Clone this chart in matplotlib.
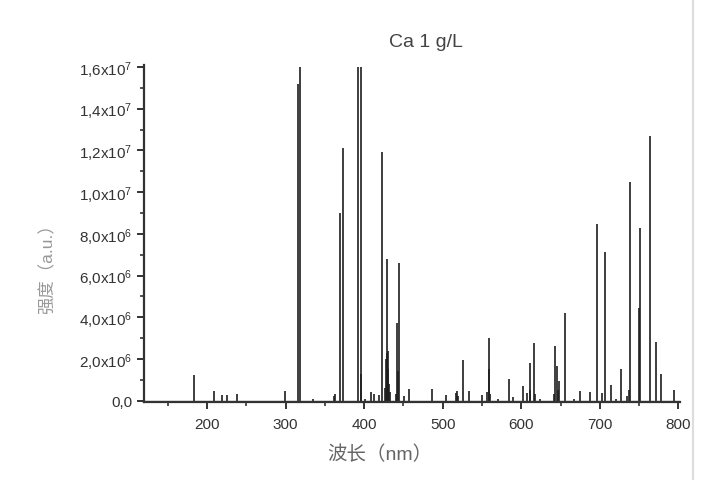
import matplotlib
matplotlib.use("Agg")
import matplotlib.pyplot as plt
from matplotlib.ticker import MultipleLocator, FuncFormatter
from matplotlib.lines import Line2D

plt.rcParams['font.family'] = ['Liberation Sans', 'Noto Sans CJK SC', 'DejaVu Sans']
plt.rcParams['mathtext.fontset'] = 'custom'
plt.rcParams['mathtext.rm'] = 'Liberation Sans'
plt.rcParams['mathtext.it'] = 'Liberation Sans:italic'

title = "Ca 1 g/L"
xlabel = "波长（nm）"
ylabel = "强度（a.u.）"

wavelength = [183.8, 209.0, 219.5, 225.5, 238.5, 299.5, 315.9, 317.9, 334.6, 362.0,
              363.5, 369.6, 372.8, 392.2, 395.4, 396.5, 401.0, 409.0, 413.0, 419.0,
              422.5, 427.0, 428.0, 428.6, 429.3, 430.0, 430.8, 431.5, 432.3, 440.5,
              442.4, 443.0, 444.6, 450.5, 457.3, 486.2, 504.0, 516.5, 518.0, 520.0,
              526.1, 534.0, 550.0, 556.5, 558.4, 559.2, 560.5, 570.0, 585.0, 589.0,
              602.0, 607.5, 610.8, 611.5, 615.7, 617.0, 624.0, 641.5, 643.3, 645.5,
              647.0, 648.4, 656.0, 667.0, 675.0, 687.0, 696.8, 703.0, 706.6, 714.6,
              720.0, 727.4, 735.0, 737.5, 738.2, 750.0, 751.2, 763.5, 772.0, 777.5,
              794.9]
intensity = [1.25e6, 0.45e6, 0.27e6, 0.28e6, 0.34e6, 0.48e6, 1.52e7, 1.60e7, 0.10e6, 0.20e6,
             0.32e6, 9.0e6, 1.21e7, 1.60e7, 1.60e7, 1.3e6, 0.1e6, 0.4e6, 0.3e6, 0.25e6,
             1.19e7, 0.6e6, 2.0e6, 2.3e6, 6.8e6, 2.4e6, 1.5e6, 0.8e6, 0.4e6, 0.3e6,
             3.7e6, 1.4e6, 6.6e6, 0.2e6, 0.56e6, 0.55e6, 0.28e6, 0.35e6, 0.47e6, 0.2e6,
             1.97e6, 0.48e6, 0.25e6, 0.4e6, 2.98e6, 1.5e6, 0.3e6, 0.1e6, 1.05e6, 0.15e6,
             0.7e6, 0.35e6, 0.5e6, 1.8e6, 2.74e6, 0.3e6, 0.1e6, 0.3e6, 2.6e6, 1.64e6,
             0.5e6, 0.92e6, 4.2e6, 0.1e6, 0.48e6, 0.39e6, 8.45e6, 0.35e6, 7.15e6, 0.74e6,
             0.1e6, 1.53e6, 0.2e6, 0.5e6, 1.05e7, 4.46e6, 8.3e6, 1.27e7, 2.8e6, 1.29e6,
             0.5e6]

fig = plt.figure(figsize=(7.28, 4.81), dpi=100)
ax = fig.add_axes([0.198, 0.162, 0.736, 0.701])

ax.vlines(wavelength, 0, intensity, color='#1e1e1e', lw=1.2)
ax.axhline(0, color='#555555', lw=0.9)

ax.set_xlim(120, 802)
ax.set_ylim(-7e4, 1.61e7)

for s in ['top', 'right']:
    ax.spines[s].set_visible(False)
for s in ['left', 'bottom']:
    ax.spines[s].set_linewidth(1.6)
    ax.spines[s].set_color('#333333')

ax.xaxis.set_major_locator(MultipleLocator(100))
ax.xaxis.set_minor_locator(MultipleLocator(50))
ax.yaxis.set_major_locator(MultipleLocator(2e6))
ax.yaxis.set_minor_locator(MultipleLocator(1e6))

def yfmt(v, pos):
    if abs(v) < 1:
        return "0,0"
    exp = 0
    m = v
    while m >= 10:
        m /= 10
        exp += 1
    return ("%.1f" % m).replace('.', ',') + "x10$^{%d}$" % exp

ax.yaxis.set_major_formatter(FuncFormatter(yfmt))
ax.tick_params(axis='both', which='major', direction='out', length=5, width=1.4,
               color='#333333', labelsize=11, labelcolor='#333333')
ax.tick_params(axis='both', which='minor', direction='out', length=3, width=1.2,
               color='#333333')
ax.tick_params(axis='x', pad=6)

ax.set_xlabel(xlabel, fontsize=14, color='#666666')
ax.xaxis.set_label_coords(0.44, -0.125)
ax.set_ylabel(ylabel, fontsize=12.5, color='#999999')
ax.yaxis.set_label_coords(-0.165, 0.41)

fig.text(0.585, 0.912, title, fontsize=14, color='#444444', ha='center', va='center')

fig.add_artist(Line2D([0.952, 0.952], [0.0, 1.0], transform=fig.transFigure,
                      color='#dddddd', lw=1.5))

fig.savefig("out.png", dpi=100)
